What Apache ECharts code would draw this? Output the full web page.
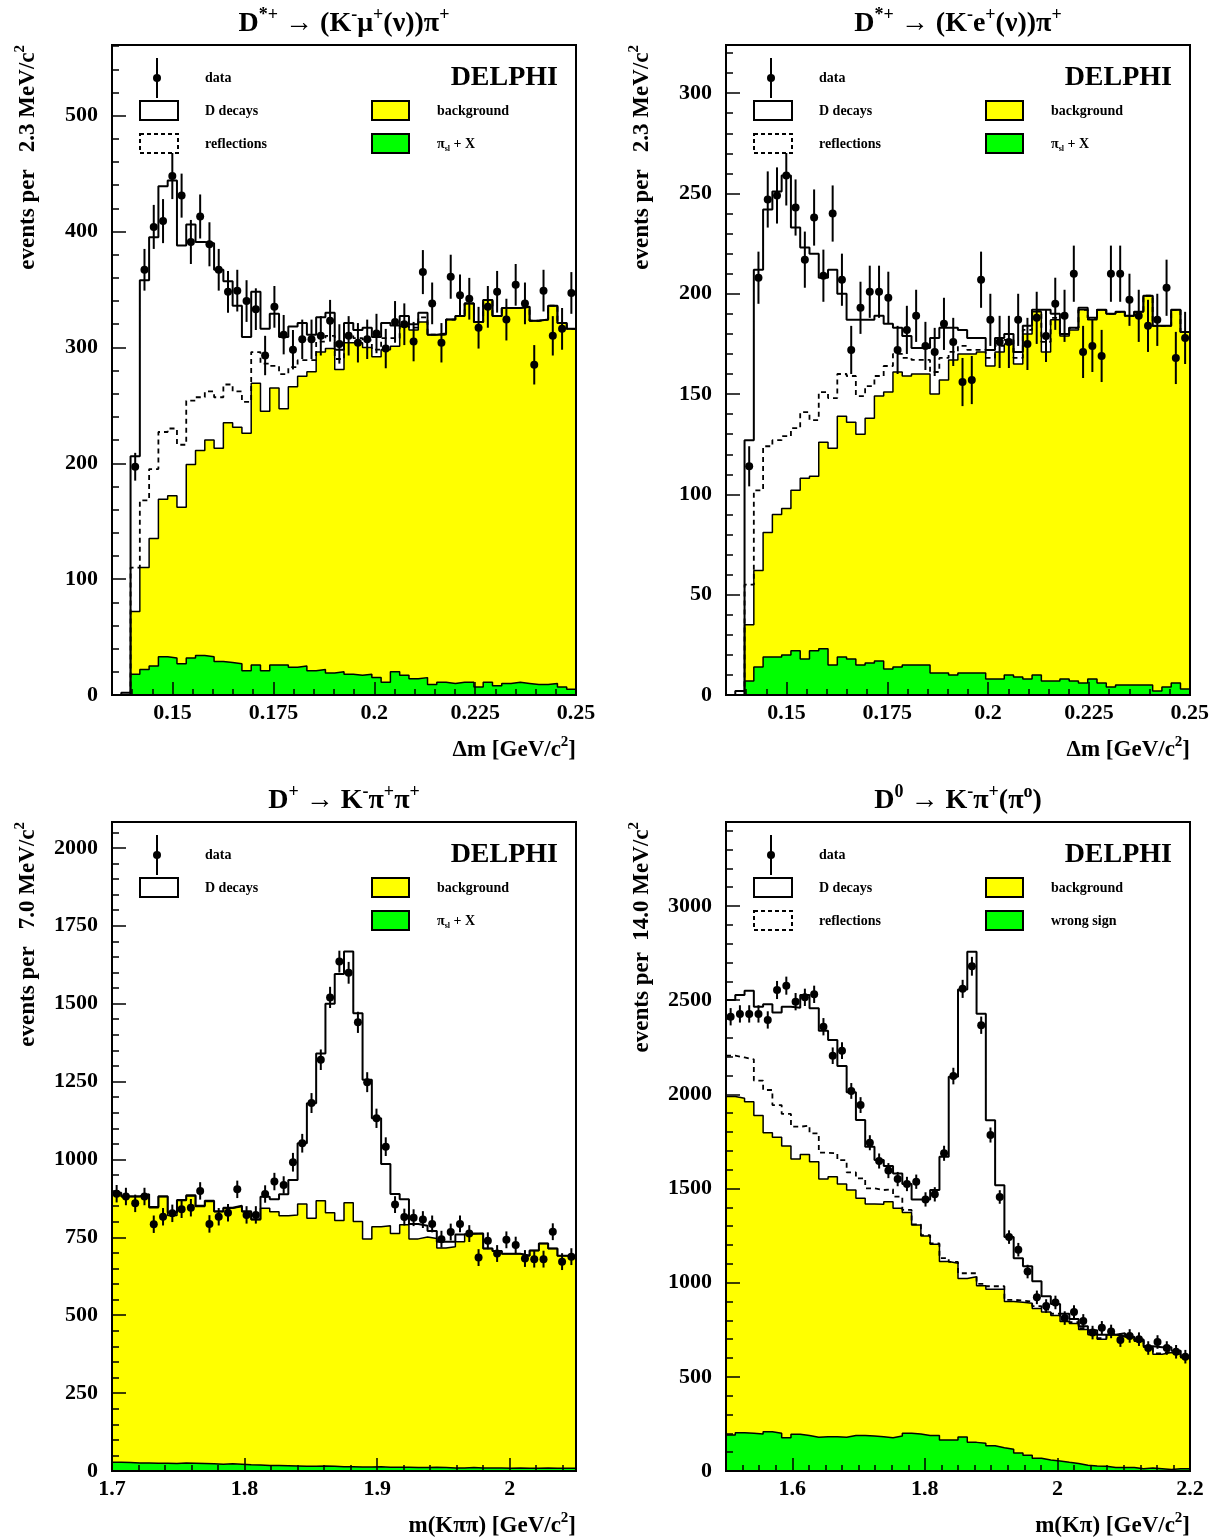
<!DOCTYPE html>
<html><head><meta charset="utf-8">
<script src="https://cdn.jsdelivr.net/npm/echarts@6/dist/echarts.min.js"></script>
<style>html,body{margin:0;padding:0;background:#fff}#c{width:1212px;height:1539px}</style>
</head><body><div id="c"></div>
<script>
// ================= DATA =================
// Panel 1: D*+ -> (K- mu+ (nu)) pi+   (Delta m, 2.3 MeV bins)
const p1_binStart = 0.135, p1_binWidth = 0.0023;
const p1_xTicks = [0.15, 0.175, 0.2, 0.225, 0.25];
const p1_yTicks = [0, 100, 200, 300, 400, 500];
const p1_green = [0,0,18,22,25,33,32,27,32,34, 33,29,28,27,21,26,21,26,26,24, 25,21,22,19,20,18,17,18,15,11, 20,17,14,15,9,11,10,11,11,7, 11,8,10,11,10,9,9,10,7,5];
const p1_bkgTop = [0,0,72,110,135,169,172,162,199,211, 220,213,235,231,226,269,245,265,247,266, 275,279,296,299,281,304,304,300,292,298, 301,318,315,322,311,311,324,327,338,322, 341,327,334,334,335,323,324,336,321,316];
const p1_reflTop = [0,0,110,168,195,227,230,216,254,257, 262,257,268,262,253,296,286,284,277,283, 289,289,305,310,290,312,308,306,298,308, 308,322,317,326,311,311,324,327,338,322, 341,327,334,334,335,323,324,336,321,316];
const p1_total = [0,2,206,358,395,439,444,388,406,391, 390,367,357,336,309,348,316,329,309,318, 321,311,326,330,298,321,315,317,309,321, 319,327,320,330,311,312,324,327,338,322, 341,327,334,334,335,323,324,336,321,316];
const p1_data = [null,null,197,367,404,409,448,431,391,413, 389,367,348,349,340,333,293,335,311,298, 307,307,310,323,303,310,304,307,312,299, 322,320,305,365,338,304,361,345,342,317, 335,348,324,354,338,285,349,310,316,347];
const p1_err = [0,0,12,18,19,19,20,19,19,19, 19,18,18,18,18,18,17,18,17,17, 17,17,17,18,17,17,17,17,17,17, 18,18,17,19,18,17,19,18,18,18, 18,18,18,18,18,17,18,17,18,18];

// Panel 2: D*+ -> (K- e+ (nu)) pi+
const p2_binStart = 0.135, p2_binWidth = 0.0023;
const p2_xTicks = [0.15, 0.175, 0.2, 0.225, 0.25];
const p2_yTicks = [0, 50, 100, 150, 200, 250, 300];
const p2_green = [0,0,7,14,19,19,20,22,18,22, 23,15,19,18,15,16,17,13,14,15, 15,15,11,11,10,11,11,11,8,8, 10,9,8,10,7,7,8,7,6,8, 6,4,5,5,5,5,2,4,6,3];
const p2_bkgTop = [0,0,35,62,81,90,93,102,108,109, 126,123,139,136,130,138,149,151,161,159, 160,160,150,157,167,170,170,171,164,171, 175,165,180,191,171,187,179,182,192,187, 192,190,191,189,191,199,184,184,192,181];
const p2_reflTop = [0,0,55,102,124,127,129,133,141,137, 151,148,160,159,149,154,159,164,170,168, 167,167,161,168,171,174,172,172,168,174, 177,168,182,192,176,188,180,183,192,188, 192,190,191,189,191,199,184,184,192,181];
const p2_total = [0,2,127,212,242,251,259,233,223,220, 208,212,200,187,187,187,189,185,183,179, 173,173,178,183,183,182,178,178,172,178, 180,171,184,192,192,190,180,183,193,188, 192,190,191,189,191,199,184,184,192,181];
const p2_data = [null,null,114,208,247,249,259,243,217,238, 209,240,207,172,193,201,201,198,172,182, 189,174,171,185,176,156,157,207,187,176, 176,187,175,188,179,195,189,210,171,174, 169,210,210,197,189,184,187,203,168,178];
const p2_err = [0,0,10,13,14,14,15,14,14,14, 13,14,13,12,13,13,13,13,12,12, 13,12,12,13,12,12,12,14,13,13, 13,13,13,13,13,13,13,14,13,13, 13,14,14,13,13,13,13,14,13,13];

// Panel 3: D+ -> K- pi+ pi+   (7 MeV bins)
const p3_binStart = 1.7, p3_binWidth = 0.007;
const p3_xTicks = [1.7, 1.8, 1.9, 2.0];
const p3_yTicks = [0, 250, 500, 750, 1000, 1250, 1500, 1750, 2000];
const p3_green = [28,27,26,26,25,25,24,26,25,24, 23,22,23,22,20,19,18,18,17,16, 15,15,16,15,14,14,13,13,14,12, 12,12,11,11,12,11,10,10,11,10, 10,10,9,10,9,9,10,9,9,9];
const p3_bkgTop = [891,880,880,886,845,880,820,868,883,849, 865,832,843,849,832,806,843,832,819,822, 857,811,867,829,804,861,801,745,784,787, 762,790,745,751,746,716,720,736,761,762, 714,706,697,697,691,708,730,714,691,691];
const p3_total = [893,882,882,888,847,882,830,870,885,851, 867,834,845,851,834,808,880,872,888,934, 1052,1180,1340,1500,1595,1667,1469,1256,1132,985, 889,872,793,787,770,736,736,759,762,762, 714,706,697,697,691,708,730,714,691,691];
const p3_data = [890,881,859,881,792,816,827,840,845,899, 793,816,829,904,822,822,889,929,918,991, 1052,1181,1320,1520,1635,1599,1440,1248,1132,1041, 855,815,813,807,793,744,767,793,762,685, 739,698,742,725,682,680,680,768,672,688];
const p3_err = [28,28,28,28,28,28,28,28,28,28, 28,28,28,28,28,28,28,28,28,30, 30,32,33,34,35,35,34,32,31,30, 27,27,27,27,27,27,27,27,27,27, 27,27,27,27,27,27,27,27,27,27];

// Panel 4: D0 -> K- pi+ (pi0)   (14 MeV bins)
const p4_binStart = 1.5, p4_binWidth = 0.014;
const p4_xTicks = [1.6, 1.8, 2.0, 2.2];
const p4_yTicks = [0, 500, 1000, 1500, 2000, 2500, 3000];
const p4_green = [191,203,200,196,209,200,177,195,188,179, 182,182,179,188,188,186,182,177,186,200, 196,188,188,165,165,180,152,147,134,124, 115,96,83,68,59,53,46,40,31,27, 25,18,18,18,12,16,12,8,12,12];
const p4_bkgTop = [1988,1979,1961,1887,1796,1772,1726,1657,1681,1642, 1550,1563,1524,1492,1448,1418,1416,1430,1395,1372, 1306,1248,1204,1112,1103,1022,1031,984,965,965, 900,896,891,863,844,825,794,783,751,723, 700,723,713,710,689,657,620,629,620,601];
const p4_reflTop = [2205,2196,2186,2073,2023,1943,1896,1828,1834,1793, 1690,1687,1651,1586,1554,1501,1492,1496,1457,1386, 1310,1252,1208,1130,1110,1050,1050,994,981,981, 909,905,900,875,857,835,804,790,758,730, 705,728,718,715,694,662,625,634,625,606];
const p4_total = [2501,2527,2550,2465,2478,2435,2465,2460,2527,2457, 2338,2288,2150,2011,1864,1722,1651,1619,1580,1524, 1442,1442,1492,1669,2094,2556,2757,2428,1863,1517, 1242,1130,1087,1007,928,887,835,807,769,747, 723,723,732,713,698,662,657,657,638,607];
const p4_data = [2412,2427,2427,2427,2395,2554,2577,2492,2515,2531, 2359,2205,2232,2018,1943,1743,1646,1595,1550,1524, 1536,1442,1469,1687,2097,2560,2680,2367,1784,1455, 1242,1175,1059,922,876,895,812,844,797,735, 760,741,695,717,700,653,685,653,633,607];
const p4_err = [46,46,46,46,46,48,48,46,46,46, 46,44,44,42,42,40,40,40,38,38, 38,38,38,40,44,48,50,46,40,36, 36,36,36,36,36,36,36,36,36,36, 36,36,36,36,36,36,36,36,36,36];

// ================= BUILD =================
const SERIF = "'Liberation Serif', 'Times New Roman', serif";

function stepData(x0, w, vals) {
  const d = vals.map((v, i) => [x0 + i * w, v]);
  d.push([x0 + vals.length * w, vals[vals.length - 1]]);
  return d;
}
function pointData(x0, w, vals, errs) {
  const d = [];
  vals.forEach((v, i) => { if (v != null) d.push([x0 + (i + 0.5) * w, v, errs[i]]); });
  return d;
}
function seq(start, step, end) {
  const r = [];
  for (let k = 0; ; k++) { const v = +(start + k * step).toFixed(6); if (v > end + 1e-9) break; r.push(v); }
  return r;
}
function rich(size) {
  return {
    n: {fontFamily: SERIF, fontWeight: 'bold', fontSize: size, lineHeight: Math.round(size * 1.3), verticalAlign: 'middle', color: '#000'},
    s: {fontFamily: SERIF, fontWeight: 'bold', fontSize: Math.round(size * 0.64), lineHeight: Math.round(size * 0.74), verticalAlign: 'top', color: '#000'},
    b: {fontFamily: SERIF, fontWeight: 'bold', fontSize: Math.round(size * 0.6), lineHeight: Math.round(size * 0.62), verticalAlign: 'bottom', color: '#000'}
  };
}
function T(x, y, text, size, align, rot) {
  return {type: 'text', x: x, y: y, rotation: rot || 0, z: 120,
    style: {text: text, fill: '#000', fontFamily: SERIF, fontWeight: 'bold', fontSize: size,
      align: align || 'left', verticalAlign: 'middle', textAlign: align || 'left', textVerticalAlign: 'middle',
      rich: rich(size)}};
}

const panels = [
  {box: [112, 45, 464, 650], x0: p1_binStart, w: p1_binWidth, xmax: 0.25, ymax: 561,
   xTicks: p1_xTicks, xMinor: seq(0.14, 0.005, 0.25), yTicks: p1_yTicks, yMinor: seq(0, 20, 560),
   green: p1_green, bkg: p1_bkgTop, refl: p1_reflTop, total: p1_total, data: p1_data, err: p1_err,
   title: '{n|D}{s|*+}{n| → (K}{s|-}{n|μ}{s|+}{n|(ν))π}{s|+}',
   ytitle: '{n|events per   2.3 MeV/c}{s|2}', xtitle: '{n|Δm [GeV/c}{s|2}{n|]}',
   greenLabel: '{n|π}{b|sl}{n| + X}', hasRefl: true},
  {box: [726, 45, 464, 650], x0: p2_binStart, w: p2_binWidth, xmax: 0.25, ymax: 324,
   xTicks: p2_xTicks, xMinor: seq(0.14, 0.005, 0.25), yTicks: p2_yTicks, yMinor: seq(0, 10, 320),
   green: p2_green, bkg: p2_bkgTop, refl: p2_reflTop, total: p2_total, data: p2_data, err: p2_err,
   title: '{n|D}{s|*+}{n| → (K}{s|-}{n|e}{s|+}{n|(ν))π}{s|+}',
   ytitle: '{n|events per   2.3 MeV/c}{s|2}', xtitle: '{n|Δm [GeV/c}{s|2}{n|]}',
   greenLabel: '{n|π}{b|sl}{n| + X}', hasRefl: true},
  {box: [112, 822, 464, 649], x0: p3_binStart, w: p3_binWidth, xmax: 2.05, ymax: 2083,
   xTicks: p3_xTicks, xMinor: seq(1.7, 0.02, 2.05), yTicks: p3_yTicks, yMinor: seq(0, 50, 2050),
   green: p3_green, bkg: p3_bkgTop, refl: null, total: p3_total, data: p3_data, err: p3_err,
   title: '{n|D}{s|+}{n| → K}{s|-}{n|π}{s|+}{n|π}{s|+}',
   ytitle: '{n|events per   7.0 MeV/c}{s|2}', xtitle: '{n|m(Kππ) [GeV/c}{s|2}{n|]}',
   greenLabel: '{n|π}{b|sl}{n| + X}', hasRefl: false},
  {box: [726, 822, 464, 649], x0: p4_binStart, w: p4_binWidth, xmax: 2.2, ymax: 3446,
   xTicks: p4_xTicks, xMinor: seq(1.5, 0.025, 2.2), yTicks: p4_yTicks, yMinor: seq(0, 100, 3400),
   green: p4_green, bkg: p4_bkgTop, refl: p4_reflTop, total: p4_total, data: p4_data, err: p4_err,
   title: '{n|D}{s|0}{n| → K}{s|-}{n|π}{s|+}{n|(π}{s|o}{n|)}',
   ytitle: '{n|events per  14.0 MeV/c}{s|2}', xtitle: '{n|m(Kπ) [GeV/c}{s|2}{n|]}',
   greenLabel: '{n|wrong sign}', hasRefl: true}
];

const grids = [], xAxes = [], yAxes = [], series = [], graphics = [];
const fmt = v => String(parseFloat(Number(v).toFixed(4)));
const labStyle = {fontFamily: SERIF, fontWeight: 'bold', fontSize: 22, color: '#000'};
const tickLine = {color: '#000', width: 1.5};

function renderPoint(params, api) {
  const x = api.value(0), y = api.value(1), e = api.value(2);
  const c = api.coord([x, y]), lo = api.coord([x, y - e]), hi = api.coord([x, y + e]);
  return {type: 'group', children: [
    {type: 'line', shape: {x1: c[0], y1: lo[1], x2: c[0], y2: hi[1]}, style: {stroke: '#000', lineWidth: 2}},
    {type: 'circle', shape: {cx: c[0], cy: c[1], r: 4}, style: {fill: '#000'}}
  ]};
}

panels.forEach((p, g) => {
  const [L, Tp, W, H] = p.box;
  grids.push({left: L, top: Tp, width: W, height: H, show: false});
  xAxes.push({type: 'value', gridIndex: g, min: p.x0, max: p.xmax, position: 'bottom', z: 10,
    axisLine: {show: false, onZero: false}, splitLine: {show: false},
    axisTick: {show: true, inside: true, length: 13, customValues: p.xTicks, lineStyle: tickLine},
    axisLabel: Object.assign({show: true, margin: 7, customValues: p.xTicks, formatter: fmt}, labStyle)});
  xAxes.push({type: 'value', gridIndex: g, min: p.x0, max: p.xmax, position: 'bottom', z: 10,
    axisLine: {show: false, onZero: false}, splitLine: {show: false},
    axisTick: {show: true, inside: true, length: 6, customValues: p.xMinor, lineStyle: tickLine},
    axisLabel: {show: false}});
  yAxes.push({type: 'value', gridIndex: g, min: 0, max: p.ymax, position: 'left', z: 10,
    axisLine: {show: false, onZero: false}, splitLine: {show: false},
    axisTick: {show: true, inside: true, length: 14, customValues: p.yTicks, lineStyle: tickLine},
    axisLabel: Object.assign({show: true, margin: 14, customValues: p.yTicks, formatter: fmt}, labStyle)});
  yAxes.push({type: 'value', gridIndex: g, min: 0, max: p.ymax, position: 'left', z: 10,
    axisLine: {show: false, onZero: false}, splitLine: {show: false},
    axisTick: {show: true, inside: true, length: 7, customValues: p.yMinor, lineStyle: tickLine},
    axisLabel: {show: false}});

  const base = {type: 'line', xAxisIndex: 2 * g, yAxisIndex: 2 * g, step: 'end', symbol: 'none',
    showSymbol: false, silent: true, animation: false};
  series.push(Object.assign({}, base, {name: 'background', z: 2, data: stepData(p.x0, p.w, p.bkg),
    lineStyle: {color: '#000', width: 1.5}, areaStyle: {color: '#ffff00', opacity: 1}}));
  series.push(Object.assign({}, base, {name: 'green', z: 3, data: stepData(p.x0, p.w, p.green),
    lineStyle: {color: '#000', width: 1.5}, areaStyle: {color: '#00ff00', opacity: 1}}));
  if (p.refl) series.push(Object.assign({}, base, {name: 'reflections', z: 4, data: stepData(p.x0, p.w, p.refl),
    lineStyle: {color: '#000', width: 1.8, type: [5, 4]}}));
  series.push(Object.assign({}, base, {name: 'D decays', z: 5, data: stepData(p.x0, p.w, p.total),
    lineStyle: {color: '#000', width: 2}}));
  series.push({type: 'custom', name: 'data', xAxisIndex: 2 * g, yAxisIndex: 2 * g, z: 6, silent: true,
    animation: false, encode: {x: 0, y: 1}, data: pointData(p.x0, p.w, p.data, p.err), renderItem: renderPoint});

  // frame
  graphics.push({type: 'rect', z: 100, shape: {x: L, y: Tp, width: W, height: H},
    style: {fill: 'transparent', stroke: '#000', lineWidth: 2}});
  // titles
  graphics.push(T(L + W / 2, Tp - 21, p.title, 28, 'center'));
  graphics.push(T(L - 84, Tp, p.ytitle, 23, 'right', Math.PI / 2));
  graphics.push(T(L + W, Tp + H + 55, p.xtitle, 23, 'right'));
  // legend
  graphics.push({type: 'line', z: 110, shape: {x1: L + 45, y1: Tp + 13, x2: L + 45, y2: Tp + 53}, style: {stroke: '#000', lineWidth: 2}});
  graphics.push({type: 'circle', z: 111, shape: {cx: L + 45, cy: Tp + 33, r: 4}, style: {fill: '#000'}});
  graphics.push(T(L + 93, Tp + 33, '{n|data}', 14));
  graphics.push({type: 'rect', z: 110, shape: {x: L + 28, y: Tp + 56, width: 38, height: 19}, style: {fill: '#fff', stroke: '#000', lineWidth: 2}});
  graphics.push(T(L + 93, Tp + 66, '{n|D decays}', 14));
  if (p.hasRefl) {
    graphics.push({type: 'rect', z: 110, shape: {x: L + 28, y: Tp + 89, width: 38, height: 19}, style: {fill: '#fff', stroke: '#000', lineWidth: 2, lineDash: [4, 3]}});
    graphics.push(T(L + 93, Tp + 99, '{n|reflections}', 14));
  }
  graphics.push({type: 'rect', z: 110, shape: {x: L + 260, y: Tp + 56, width: 37, height: 19}, style: {fill: '#ffff00', stroke: '#000', lineWidth: 2}});
  graphics.push(T(L + 325, Tp + 66, '{n|background}', 14));
  graphics.push({type: 'rect', z: 110, shape: {x: L + 260, y: Tp + 89, width: 37, height: 19}, style: {fill: '#00ff00', stroke: '#000', lineWidth: 2}});
  graphics.push(T(L + 325, Tp + 99, p.greenLabel, 14));
  graphics.push(T(L + 446, Tp + 33, '{n|DELPHI}', 28, 'right'));
});

const chart = echarts.init(document.getElementById('c'), null, {renderer: 'canvas'});
chart.setOption({
  animation: false,
  backgroundColor: '#fff',
  grid: grids, xAxis: xAxes, yAxis: yAxes, series: series, graphic: graphics
});
</script>
</body></html>
